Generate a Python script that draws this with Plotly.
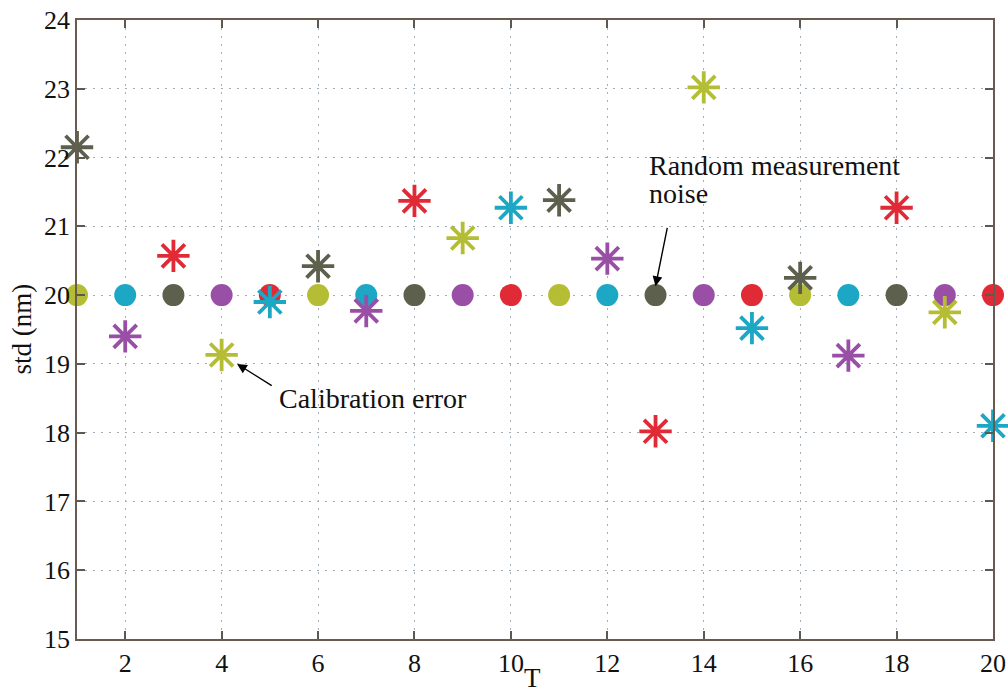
import plotly.graph_objects as go

# Sample index T
T = list(range(1, 21))

# Nominal std with random measurement noise only (nm)
std_nominal = [20.0] * 20

# Std when a calibration error is present (nm)
std_calib = [22.15, 19.40, 20.57, 19.13, 19.90, 20.42, 19.77, 21.37, 20.83, 21.27,
             21.38, 20.53, 18.02, 23.02, 19.52, 20.25, 19.12, 21.27, 19.75, 18.10]

# Colour cycle used for the markers
palette = ["#b5bd35", "#1ca8c5", "#5c604c", "#9a4fa6", "#e02a36"]
dot_colors = [palette[(t - 1) % 5] for t in T]
star_colors = [palette[(t + 1) % 5] for t in T]

x_ticks = [2, 4, 6, 8, 10, 12, 14, 16, 18, 20]
y_ticks = [15, 16, 17, 18, 19, 20, 21, 22, 23, 24]

FONT = "Liberation Serif"
TXT = "#111111"

fig = go.Figure()

fig.add_trace(go.Scatter(
    x=T, y=std_nominal, mode="markers",
    marker=dict(symbol="circle", size=22, color=dot_colors, line=dict(width=0)),
    cliponaxis=False, showlegend=False,
))

fig.add_trace(go.Scatter(
    x=T, y=std_calib, mode="markers",
    marker=dict(symbol="asterisk-open", size=27, color=star_colors,
                line=dict(width=3.8, color=star_colors)),
    cliponaxis=False, showlegend=False,
))

axis_common = dict(
    showline=True, linecolor="#6a5a50", linewidth=1.5, mirror="ticks",
    ticks="inside", ticklen=8, tickwidth=1.5, tickcolor="#5a5a50",
    showgrid=True, gridcolor="#9fb0bb", gridwidth=1, griddash="2px,6px",
    zeroline=False, automargin=False,
    tickfont=dict(family=FONT, size=26, color=TXT),
)

fig.update_xaxes(range=[1, 20], tickvals=x_ticks, ticktext=[str(v) for v in x_ticks],
                 **axis_common)
fig.update_yaxes(range=[15, 24], tickvals=y_ticks, ticktext=[str(v) for v in y_ticks],
                 **axis_common)

# Axis titles
fig.add_annotation(x=0.497, y=-0.0885, xref="paper", yref="paper", text="T",
                   showarrow=False, xanchor="center", yanchor="bottom", borderpad=0,
                   font=dict(family=FONT, size=27, color=TXT))
fig.add_annotation(x=-0.061, y=0.50, xref="paper", yref="paper", text="std (nm)",
                   showarrow=False, textangle=-90, xanchor="center", yanchor="middle",
                   borderpad=0, font=dict(family=FONT, size=27, color=TXT))

# Labelled arrows
fig.add_annotation(x=13.0, y=20.13, ax=13.25, ay=21.0, axref="x", ayref="y",
                   xref="x", yref="y", text="", showarrow=True,
                   arrowhead=2, arrowsize=1.4, arrowwidth=1.4, arrowcolor="#000000")
fig.add_annotation(x=12.83, y=21.884, xref="x", yref="y", showarrow=False,
                   text="Random measurement", xanchor="left", yanchor="middle",
                   font=dict(family=FONT, size=28, color=TXT))
fig.add_annotation(x=12.83, y=21.478, xref="x", yref="y", showarrow=False,
                   text="noise", xanchor="left", yanchor="middle",
                   font=dict(family=FONT, size=28, color=TXT))

fig.add_annotation(x=4.32, y=19.0, ax=5.07, ay=18.67, axref="x", ayref="y",
                   xref="x", yref="y", text="", showarrow=True,
                   arrowhead=2, arrowsize=1.4, arrowwidth=1.4, arrowcolor="#000000")
fig.add_annotation(x=5.15, y=18.493, xref="x", yref="y", showarrow=False,
                   text="Calibration error", xanchor="left", yanchor="middle",
                   font=dict(family=FONT, size=28, color=TXT))

fig.update_layout(
    width=1008, height=695,
    margin=dict(l=77, r=15, t=20, b=56),
    paper_bgcolor="white", plot_bgcolor="white",
    font=dict(family=FONT, size=26, color=TXT),
)

fig.write_html("out.html")
